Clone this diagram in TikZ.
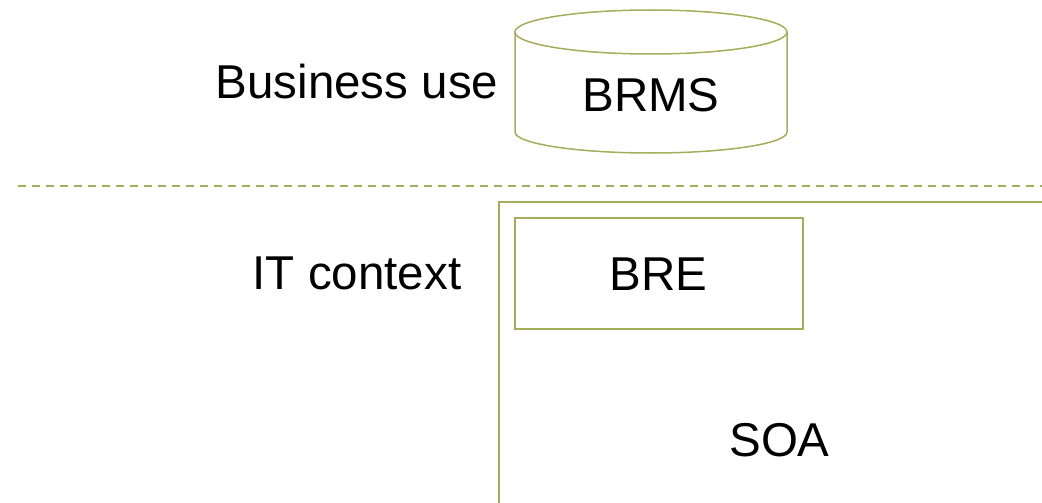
\documentclass[tikz,border=0pt]{standalone}
\usepackage{fontspec}
\setmainfont{Liberation Sans}
\definecolor{olive}{RGB}{163,173,91}
\begin{document}
\begin{tikzpicture}[x=1pt,y=1pt,
  lbl/.style={inner sep=0pt, font=\fontsize{47.5}{52}\selectfont, text=black},
  frame/.style={draw=olive, line width=2pt},
  sep/.style={draw=olive, line width=2pt, dash pattern=on 8pt off 6pt}]
\useasboundingbox (0,0) rectangle (1042,-503);

% database cylinder for the rule management system
\draw[frame, line width=1.5pt] (515,-32) -- (515,-132)
  arc[start angle=180, end angle=360, x radius=136pt, y radius=21pt] -- (787,-32);
\draw[frame, line width=1.5pt] (651,-32) ellipse[x radius=136pt, y radius=22pt];
\node[lbl] (brms) at (651,-95) {BRMS};
\node[lbl] (business) at (357,-82) {Business use};

% boundary between business and IT layers
\draw[sep] (18,-186) -- (1042,-186);

% SOA frame and rule engine
\draw[frame] (1042,-202) -- (498.7,-202) -- (498.7,-503);
\node[frame, minimum width=288pt, minimum height=111pt, inner sep=0pt] (bre) at (659,-273.5) {};
\node[lbl] at (658.5,-274.5) {BRE};
\node[lbl] (itctx) at (357,-273) {IT context};
\node[lbl] (soa) at (779.5,-440.3) {SOA};
\end{tikzpicture}
\end{document}
